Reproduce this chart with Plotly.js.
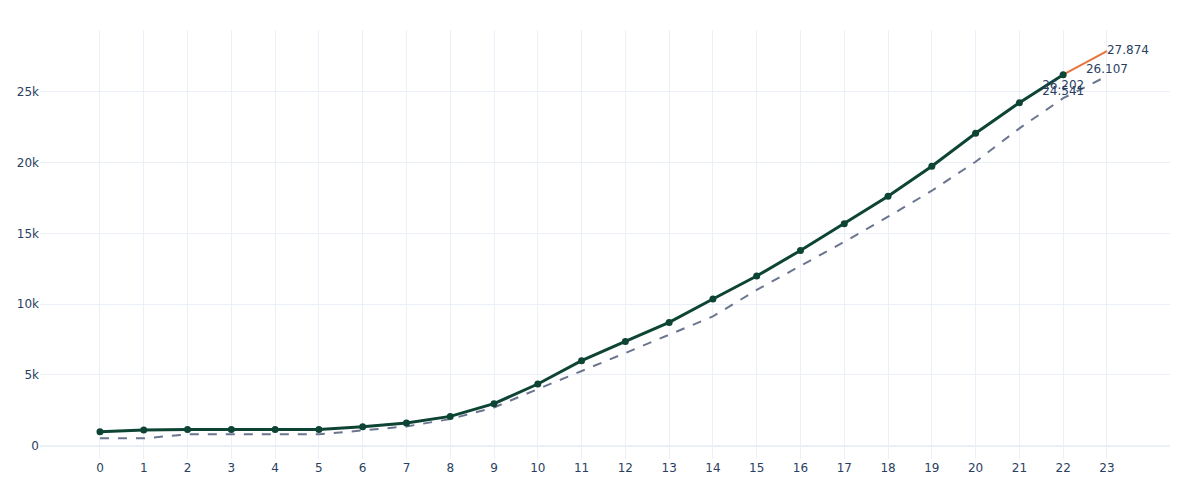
<!DOCTYPE html>
<html>
<head>
<meta charset="utf-8">
<script src="https://cdn.plot.ly/plotly-3.0.1.min.js"></script>
<style>
  html, body { margin: 0; padding: 0; background: #fff; }
  #chart { width: 1200px; height: 500px; }
</style>
</head>
<body>
<div id="chart"></div>
<script>
  // Werte
  var steps = [0, 1, 2, 3, 4, 5, 6, 7, 8, 9, 10, 11, 12, 13, 14, 15, 16, 17, 18, 19, 20, 21, 22];
  var actual = [990, 1100, 1150, 1150, 1150, 1150, 1340, 1600, 2070, 2966, 4357, 6003, 7366,
    8708, 10360, 11984, 13790, 15678, 17613, 19732, 22062, 24223, 26202];
  var actualText = ["", "", "", "", "", "", "", "", "", "", "", "", "", "", "", "", "", "", "", "", "", "", "26.202"];

  var forecastSteps = [22, 23];
  var forecast = [26202, 27874];
  var forecastText = ["", "27.874"];

  var baseSteps = [0, 1, 2, 3, 4, 5, 6, 7, 8, 9, 10, 11, 12, 13, 14, 15, 16, 17, 18, 19, 20, 21, 22, 23];
  var baseline = [520, 520, 800, 800, 800, 800, 1080, 1360, 1880, 2700, 4000, 5250, 6545,
    7840, 9130, 11000, 12690, 14400, 16172, 18008, 20056, 22415, 24541, 26107];
  var baseText = ["", "", "", "", "", "", "", "", "", "", "", "", "", "", "", "", "", "", "", "", "", "", "24.541", "26.107"];

  var tickVals = baseSteps;
  var tickText = baseSteps.map(String);

  var textColor = "#2a3f5f";
  var grid = "#ebf0f8";

  var traces = [
    {
      x: baseSteps,
      y: baseline,
      type: "scatter",
      mode: "lines+text",
      text: baseText,
      textposition: "top center",
      textfont: { size: 12, color: textColor },
      line: { color: "#6b7590", width: 2, dash: "dash" },
      showlegend: false
    },
    {
      x: forecastSteps,
      y: forecast,
      type: "scatter",
      mode: "lines+text",
      text: forecastText,
      textposition: "middle right",
      textfont: { size: 12, color: textColor },
      line: { color: "#e8743b", width: 2 },
      showlegend: false
    },
    {
      x: steps,
      y: actual,
      type: "scatter",
      mode: "lines+markers+text",
      text: actualText,
      textposition: "bottom center",
      textfont: { size: 12, color: textColor },
      line: { color: "#0d4434", width: 3 },
      marker: { color: "#0d4434", size: 7 },
      showlegend: false
    }
  ];

  var layout = {
    width: 1200,
    height: 500,
    margin: { l: 40, r: 30, t: 30, b: 41 },
    paper_bgcolor: "#ffffff",
    plot_bgcolor: "#ffffff",
    font: { family: "DejaVu Sans, Verdana, sans-serif", size: 12, color: textColor },
    showlegend: false,
    xaxis: {
      range: [-1.37, 24.44],
      tickmode: "array",
      tickvals: tickVals,
      ticktext: tickText,
      showgrid: true,
      gridcolor: grid,
      zeroline: false,
      showline: false,
      ticks: ""
    },
    yaxis: {
      range: [-940, 29360],
      tickmode: "array",
      tickvals: [0, 5000, 10000, 15000, 20000, 25000],
      ticktext: ["0", "5k", "10k", "15k", "20k", "25k"],
      showgrid: true,
      gridcolor: grid,
      zeroline: true,
      zerolinecolor: grid,
      zerolinewidth: 2,
      showline: false,
      ticks: ""
    }
  };

  Plotly.newPlot("chart", traces, layout, { displayModeBar: false, staticPlot: true });
</script>
</body>
</html>
